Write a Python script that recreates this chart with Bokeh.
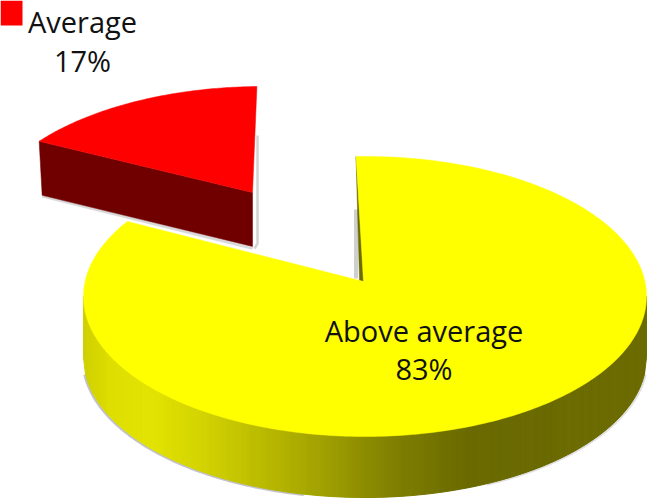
import numpy as np
from bokeh.plotting import figure
from bokeh.embed import file_html
from bokeh.resources import INLINE
from bokeh.core.properties import value

categories = ["Above average", "Average"]
shares = [83, 17]

W, H = 650, 500
p = figure(width=W, height=H, output_backend="svg", toolbar_location=None,
           x_range=(0, W), y_range=(H, 0), min_border=0,
           x_axis_type="linear", y_axis_type="linear")
p.axis.visible = False
p.grid.visible = False
p.outline_line_color = None
p.background_fill_color = "white"
p.border_fill_color = "white"

A, B = 281.5, 140.0


def rim(theta_deg, apex, centre, ray_b=B):
    """Point where a slice edge (angle clockwise from the top) leaves the tilted disc."""
    t = np.radians(theta_deg)
    dx, dy = A * np.sin(t), -ray_b * np.cos(t)
    ox, oy = apex[0] - centre[0], apex[1] - centre[1]
    a_ = (dx / A) ** 2 + (dy / B) ** 2
    b_ = 2 * (ox * dx / A ** 2 + oy * dy / B ** 2)
    c_ = (ox / A) ** 2 + (oy / B) ** 2 - 1
    s = (-b_ + np.sqrt(b_ ** 2 - 4 * a_ * c_)) / (2 * a_)
    return apex[0] + s * dx, apex[1] + s * dy


big_sweep = 360 * shares[0] / sum(shares)
small_sweep = 360 * shares[1] / sum(shares)

# --- large slice ---
apex_y = (363, 281)
cen_y = (364.5, 296)
T_y = 61
start_y = -1.7

# soft shadow under the outer wall
xs = np.linspace(cen_y[0] - A, cen_y[0] + A, 281)
yb = cen_y[1] + T_y + B * np.sqrt(np.clip(1 - ((xs - cen_y[0]) / A) ** 2, 0, 1))
left = (xs < cen_y[0] - 60) & (xs > cen_y[0] - A + 1)
p.line(xs[left] - 1, yb[left] + 0.5, line_color="#8f8f9f", line_width=2.5, line_alpha=0.55)
right = (xs > cen_y[0] + 120) & (xs < cen_y[0] + A - 1)
p.line(xs[right] + 1, yb[right] + 0.5, line_color="#999999", line_width=2.5, line_alpha=0.3)

stops_x = [83, 110, 150, 200, 280, 350, 400, 470, 650]
stops_v = [208, 222, 228, 212, 180, 148, 125, 106, 108]
qx, qy, cols = [], [], []
for i in range(len(xs) - 1):
    x0, x1 = xs[i], xs[i + 1]
    t0 = B * np.sqrt(max(1 - ((x0 - cen_y[0]) / A) ** 2, 0))
    t1 = B * np.sqrt(max(1 - ((x1 - cen_y[0]) / A) ** 2, 0))
    y0, y1 = cen_y[1] + t0, cen_y[1] + t1
    qx.append([x0, x1, x1, x0])
    qy.append([y0, y1, y1 + T_y, y0 + T_y])
    v = int(np.interp((x0 + x1) / 2, stops_x, stops_v))
    cols.append(f"#{v:02x}{v:02x}00")
p.patches(qx, qy, fill_color=cols, line_color=cols, line_width=1)

# shadow beside the cut edge
p.quad(left=[353.5], right=[357.5], top=[209], bottom=[278], fill_color="#bbbbbb",
       fill_alpha=0.7, line_color=None)

thetas = np.linspace(start_y, start_y + big_sweep, 300)
pts = [rim(t, apex_y, cen_y) for t in thetas]
r0 = pts[0]
p.patch([r0[0], apex_y[0] + 0.5, apex_y[0] - 4], [r0[1], apex_y[1], apex_y[1] - 1],
        fill_color="#6b6b00", line_color="#6b6b00", line_width=0.5)
p.patch([apex_y[0]] + [q[0] for q in pts], [apex_y[1]] + [q[1] for q in pts],
        fill_color="#ffff00", line_color="#ffff00", line_width=0.5)

# --- small slice, pulled out ---
apex_r = (252, 192)
cen_r = (262, 226)
T_r = 54
ray_r = 118.0
start_r = start_y + big_sweep + 2.7

thetas = np.linspace(start_r, start_r + small_sweep, 100)
pts = [rim(t, apex_r, cen_r, ray_r) for t in thetas]
e = pts[0]
p.line([257, 257, 254], [135, 243, 248], line_color="#aaaaaa", line_width=2.5, line_alpha=0.5)
p.line([e[0] + 3, apex_r[0]], [e[1] + T_r + 1, apex_r[1] + T_r + 2], line_color="#aaaaaa",
       line_width=2.5, line_alpha=0.45)
p.patch([e[0], apex_r[0], apex_r[0], e[0] + 3], [e[1], apex_r[1], apex_r[1] + T_r, e[1] + T_r],
        fill_color="#700000", line_color="#700000", line_width=0.5)
p.patch([apex_r[0]] + [q[0] for q in pts], [apex_r[1]] + [q[1] for q in pts],
        fill_color="#ff0000", line_color="#ff0000", line_width=0.5)

# --- legend key and labels ---
p.quad(left=[0], right=[22], top=[0], bottom=[25], fill_color="#ff0000", line_color=None)

lab_x = [423.5, 423.5, 82, 82]
lab_y = [330, 368, 21, 60]
lab_t = [categories[0], f"{shares[0]}%", categories[1], f"{shares[1]}%"]
p.text(lab_x, lab_y, text=lab_t, text_align="center", text_baseline="alphabetic",
       text_font=value("Open Sans"), text_font_size="29px", text_color="#111111")

open("out.html", "w").write(file_html(p, INLINE))
